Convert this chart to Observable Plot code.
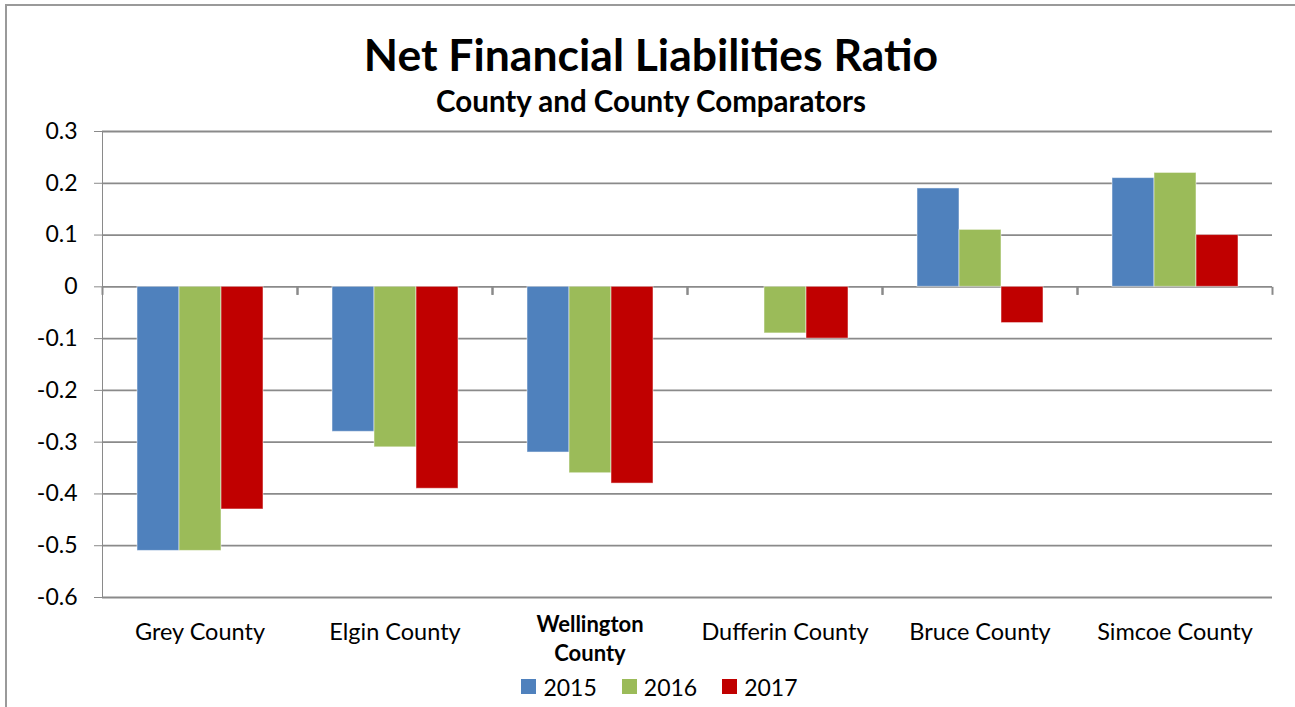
<!DOCTYPE html>
<html>
<head>
<meta charset="utf-8">
<script src="https://cdn.jsdelivr.net/npm/d3@7"></script>
<script src="https://cdn.jsdelivr.net/npm/@observablehq/plot@0.6"></script>
<style>
  html, body { margin: 0; padding: 0; background: #fff; }
  #wrap { position: relative; width: 1295px; height: 707px; overflow: hidden; font-family: Lato, "Open Sans", sans-serif; }
  #border { position: absolute; left: 5px; top: 4px; width: 1400px; height: 900px; border-left: 2px solid #9a9a9a; border-top: 2px solid #9a9a9a; }
  #head { position: relative; height: 108px; }
  #title { position: absolute; left: 0; width: 1302px; top: 28px; text-align: center; font-weight: 700; font-size: 44.5px; line-height: 52px; color: #000; white-space: nowrap; }
  #subtitle { position: absolute; left: 0; width: 1302px; top: 84px; text-align: center; font-weight: 700; font-size: 29.5px; line-height: 34px; color: #000; white-space: nowrap; }
  #chart { position: relative; }
  #legend { position: relative; height: 41px; display: flex; justify-content: center; align-items: center; gap: 25px; font-size: 23px; color: #000; padding-left: 24px; }
  .item { display: flex; align-items: center; gap: 7px; }
  .sw { width: 15px; height: 15px; display: inline-block; }
  svg [aria-label="y-axis tick label"] { fill: #000; }
</style>
</head>
<body>
<div id="wrap">
  <div id="border"></div>
  <div id="head">
    <div id="title"></div>
    <div id="subtitle"></div>
  </div>
  <div id="chart"></div>
  <div id="legend"></div>
</div>
<script>
const titleText = "Net Financial Liabilities Ratio";
const subtitleText = "County and County Comparators";
const categories = ["Grey County", "Elgin County", "Wellington County", "Dufferin County", "Bruce County", "Simcoe County"];
const highlighted = "Wellington County";
const years = ["2015", "2016", "2017"];
const colors = ["#4F81BD", "#9BBB59", "#C00000"];
const v2015 = [-0.51, -0.28, -0.32, null, 0.19, 0.21];
const v2016 = [-0.51, -0.31, -0.36, -0.09, 0.11, 0.22];
const v2017 = [-0.43, -0.39, -0.38, -0.10, -0.07, 0.10];
const yTicks = [-0.6, -0.5, -0.4, -0.3, -0.2, -0.1, 0, 0.1, 0.2, 0.3];

document.getElementById("title").textContent = titleText;
document.getElementById("subtitle").textContent = subtitleText;

const series = [v2015, v2016, v2017];
const rows = [];
categories.forEach((c, i) => {
  years.forEach((yr, j) => {
    const v = series[j][i];
    if (v !== null) rows.push({county: c, year: yr, value: v});
  });
});

const fmt = d => d === 0 ? "0" : d.toFixed(1);

const tickSymbol = {
  draw(context) { context.moveTo(0, 0); context.lineTo(0, 8); }
};

const gridColor = "#8a8a8a";

const chart = Plot.plot({
  width: 1295,
  height: 558,
  marginTop: 23,
  marginBottom: 69,
  marginLeft: 101,
  marginRight: 22,
  style: { color: gridColor, fontFamily: "Lato, 'Open Sans', sans-serif", fontSize: "23px", background: "transparent", overflow: "visible" },
  fx: { domain: categories, padding: 0, axis: null },
  x: { domain: years, paddingInner: 0, paddingOuter: 0.771, axis: null },
  y: { domain: [-0.6, 0.3], ticks: yTicks, tickFormat: fmt, tickSize: 8, tickPadding: 17, line: true, label: null },
  color: { domain: years, range: colors },
  marks: [
    Plot.ruleY(yTicks, { y: d => d, stroke: gridColor, strokeWidth: 1.8 }),
    Plot.dot([0], { y: d => d, frameAnchor: "left", symbol: tickSymbol, r: 4, fill: "none", stroke: gridColor, strokeWidth: 2 }),
    Plot.dot([0], { y: d => d, frameAnchor: "right", symbol: tickSymbol, r: 4, fill: "none", stroke: gridColor, strokeWidth: 2 }),
    Plot.barY(rows, { fx: "county", x: "year", y: "value", fill: "year", stroke: "#fff", strokeOpacity: 0.5, strokeWidth: 1 }),
    Plot.text(categories.filter(c => c !== highlighted), { fx: d => d, text: d => d, frameAnchor: "bottom", dy: 35, fill: "#000", fontSize: 23.5, lineAnchor: "middle" }),
    Plot.text([highlighted], { fx: d => d, text: d => d.replace(" ", "\n"), frameAnchor: "bottom", dy: 40, fill: "#000", fontSize: 22, fontWeight: "bold", lineHeight: 1.32, lineAnchor: "middle" })
  ]
});
document.getElementById("chart").appendChild(chart);

const legend = document.getElementById("legend");
years.forEach((yr, j) => {
  const item = document.createElement("div");
  item.className = "item";
  const sw = document.createElement("span");
  sw.className = "sw";
  sw.style.background = colors[j];
  const t = document.createElement("span");
  t.textContent = yr;
  item.appendChild(sw);
  item.appendChild(t);
  legend.appendChild(item);
});
</script>
</body>
</html>
